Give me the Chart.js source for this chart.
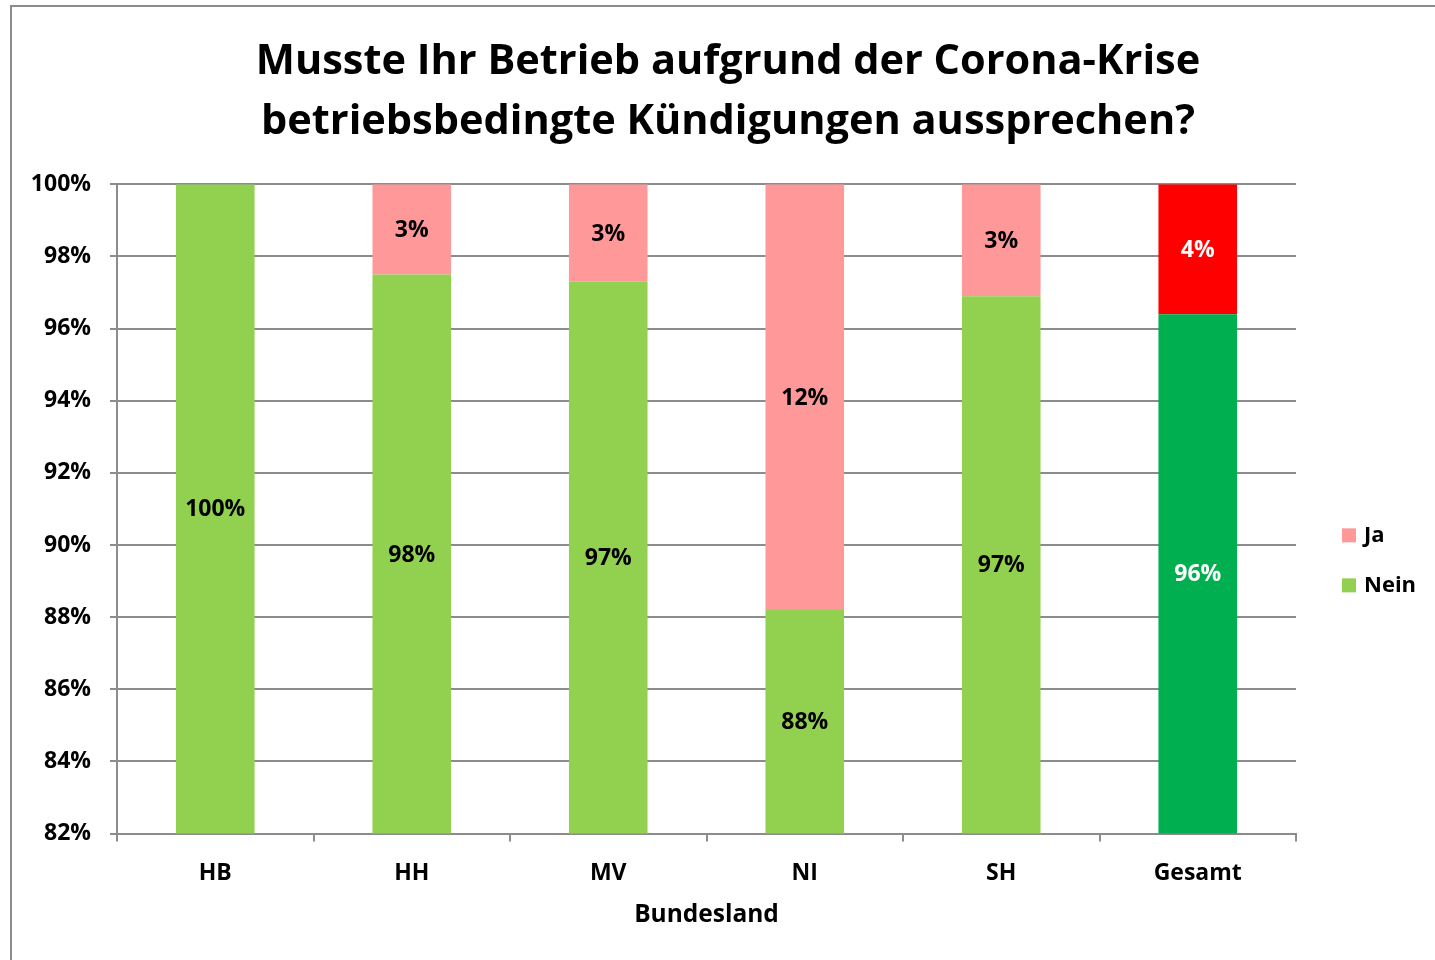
<!DOCTYPE html>
<html>
<head>
<meta charset="utf-8">
<script src="https://cdn.jsdelivr.net/npm/chart.js@4"></script>
<style>
  body { margin: 0; background: #fff; }
  #wrap { position: relative; width: 1435px; height: 960px; }
  #frame {
    position: absolute; left: 10px; top: 5px; right: 0; bottom: 0;
    border-left: 2px solid #8c8c8c; border-top: 2px solid #8c8c8c;
  }
  canvas { position: absolute; left: 0; top: 0; }
</style>
</head>
<body>
<div id="wrap">
  <div id="frame"></div>
  <canvas id="chart" width="1435" height="960"></canvas>
</div>
<script>
const categories = ["HB", "HH", "MV", "NI", "SH", "Gesamt"];
const neinValues = [100, 97.5, 97.3, 88.2, 96.9, 96.4];
const jaValues = [0, 2.5, 2.7, 11.8, 3.1, 3.6];
const yTicks = [82, 84, 86, 88, 90, 92, 94, 96, 98, 100];

const neinColors = ["#92d050", "#92d050", "#92d050", "#92d050", "#92d050", "#00b050"];
const jaColors = ["#ff9999", "#ff9999", "#ff9999", "#ff9999", "#ff9999", "#ff0000"];
const labelColors = ["#000", "#000", "#000", "#000", "#000", "#fff"];

const FONT = "'Open Sans', sans-serif";

// percentage labels in the middle of the visible part of each segment
const barLabels = {
  id: "barLabels",
  afterDatasetsDraw(chart) {
    const ctx = chart.ctx;
    const area = chart.chartArea;
    ctx.save();
    ctx.font = "bold 23px " + FONT;
    ctx.textAlign = "center";
    ctx.textBaseline = "middle";
    chart.data.datasets.forEach(function (ds, i) {
      const meta = chart.getDatasetMeta(i);
      meta.data.forEach(function (bar, j) {
        const v = ds.data[j];
        if (!v) return;
        const top = Math.max(Math.min(bar.y, bar.base), area.top);
        const bottom = Math.min(Math.max(bar.y, bar.base), area.bottom);
        ctx.fillStyle = labelColors[j];
        ctx.fillText(Math.round(v) + "%", bar.x, (top + bottom) / 2 + 1);
      });
    });
    ctx.restore();
  },
};

// legend to the right of the plot, Ja above Nein
const sideLegend = {
  id: "sideLegend",
  afterDraw(chart) {
    const ctx = chart.ctx;
    const area = chart.chartArea;
    const items = chart.data.datasets.slice().reverse();
    ctx.save();
    ctx.font = "bold 22px " + FONT;
    ctx.textBaseline = "middle";
    ctx.textAlign = "left";
    items.forEach(function (ds, k) {
      const x = area.right + 46;
      const y = area.top + 351 + k * 50;
      ctx.fillStyle = ds.backgroundColor[0];
      ctx.fillRect(x, y - 7, 14, 14);
      ctx.fillStyle = "#000";
      ctx.fillText(ds.label, x + 22, y);
    });
    ctx.restore();
  },
};

const ctx = document.getElementById("chart").getContext("2d");
new Chart(ctx, {
  type: "bar",
  data: {
    labels: categories,
    datasets: [
      { label: "Nein", data: neinValues, backgroundColor: neinColors, borderWidth: 0 },
      { label: "Ja", data: jaValues, backgroundColor: jaColors, borderWidth: 0 },
    ],
  },
  options: {
    responsive: false,
    animation: false,
    barPercentage: 0.4,
    categoryPercentage: 1,
    layout: { padding: { left: 30, right: 9, top: 10, bottom: 26 } },
    scales: {
      x: {
        stacked: true,
        grid: {
          offset: true,
          drawOnChartArea: false,
          tickLength: 8,
          color: "#8c8c8c",
          lineWidth: 2,
        },
        border: { color: "#8c8c8c", width: 2 },
        ticks: {
          color: "#000",
          font: { family: FONT, size: 23, weight: "bold", lineHeight: 0.7 },
          padding: 23.5,
        },
        title: {
          display: true,
          text: "Bundesland",
          color: "#000",
          font: { family: FONT, size: 24.5, weight: "bold" },
          padding: { top: -4, bottom: 4 },
        },
      },
      y: {
        stacked: true,
        min: 82,
        max: 100,
        afterBuildTicks(axis) {
          axis.ticks = yTicks.map(function (v) { return { value: v }; });
        },
        afterFit(axis) {
          axis.width = 87;
        },
        grid: { color: "#8c8c8c", lineWidth: 2, tickLength: 7 },
        border: { color: "#8c8c8c", width: 2 },
        ticks: {
          color: "#000",
          font: { family: FONT, size: 23, weight: "bold" },
          padding: 19,
          callback: function (value) { return value + "%"; },
        },
      },
      // empty axis that keeps room for the legend on the right
      legendSpace: {
        type: "linear",
        axis: "y",
        position: "right",
        grid: { display: false },
        border: { display: false },
        ticks: { display: false },
        afterFit(axis) {
          axis.width = 130;
        },
      },
    },
    plugins: {
      title: {
        display: true,
        text: ["Musste Ihr Betrieb aufgrund der Corona-Krise", "betriebsbedingte Kündigungen aussprechen?"],
        color: "#000",
        font: { family: FONT, size: 41.5, weight: "bold", lineHeight: 1.45 },
        padding: { top: 22, bottom: 32 },
      },
      legend: { display: false },
      tooltip: { enabled: false },
    },
  },
  plugins: [barLabels, sideLegend],
});
</script>
</body>
</html>
